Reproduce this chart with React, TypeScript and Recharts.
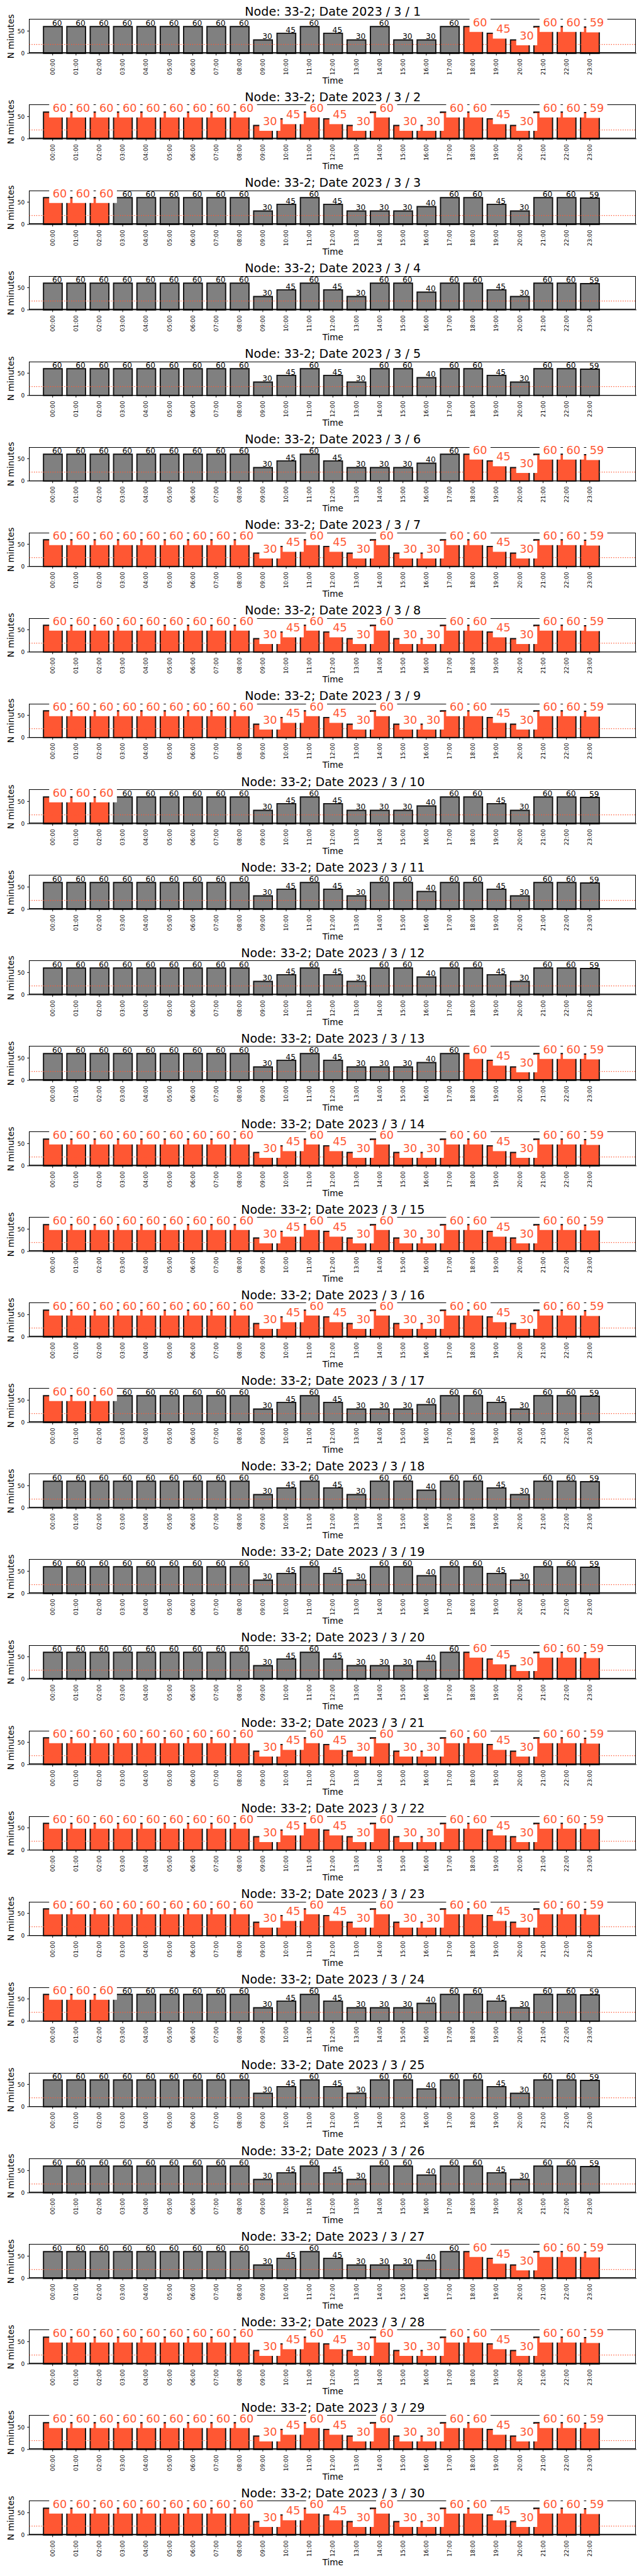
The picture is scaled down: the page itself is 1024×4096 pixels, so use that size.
import React from "react";
import { BarChart, Bar, XAxis, YAxis, Cell, ReferenceLine, LabelList } from "recharts";

// tick labels
const hours = [
  "00:00", "01:00", "02:00", "03:00", "04:00", "05:00", "06:00", "07:00",
  "08:00", "09:00", "10:00", "11:00", "12:00", "13:00", "14:00", "15:00",
  "16:00", "17:00", "18:00", "19:00", "20:00", "21:00", "22:00", "23:00",
];

// minutes per hour, three day types
const midweekMinutes = [60, 60, 60, 60, 60, 60, 60, 60, 60, 30, 45, 60, 45, 30, 60, 30, 30, 60, 60, 45, 30, 60, 60, 59];
const friMonMinutes = [60, 60, 60, 60, 60, 60, 60, 60, 60, 30, 45, 60, 45, 30, 30, 30, 40, 60, 60, 45, 30, 60, 60, 59];
const weekendMinutes = [60, 60, 60, 60, 60, 60, 60, 60, 60, 30, 45, 60, 45, 30, 60, 60, 40, 60, 60, 45, 30, 60, 60, 59];

// highlighted (orange) hours
const flagsAll = [1, 1, 1, 1, 1, 1, 1, 1, 1, 1, 1, 1, 1, 1, 1, 1, 1, 1, 1, 1, 1, 1, 1, 1];
const flagsEvening = [0, 0, 0, 0, 0, 0, 0, 0, 0, 0, 0, 0, 0, 0, 0, 0, 0, 0, 1, 1, 1, 1, 1, 1];
const flagsEarly = [1, 1, 1, 0, 0, 0, 0, 0, 0, 0, 0, 0, 0, 0, 0, 0, 0, 0, 0, 0, 0, 0, 0, 0];
const flagsNone = [0, 0, 0, 0, 0, 0, 0, 0, 0, 0, 0, 0, 0, 0, 0, 0, 0, 0, 0, 0, 0, 0, 0, 0];

const days = [1, 2, 3, 4, 5, 6, 7, 8, 9, 10, 11, 12, 13, 14, 15, 16, 17, 18, 19, 20, 21, 22, 23, 24, 25, 26, 27, 28, 29, 30];
const dayMinutes = [
  midweekMinutes, midweekMinutes, friMonMinutes, weekendMinutes, weekendMinutes, friMonMinutes,
  midweekMinutes, midweekMinutes, midweekMinutes, friMonMinutes, weekendMinutes, weekendMinutes, friMonMinutes,
  midweekMinutes, midweekMinutes, midweekMinutes, friMonMinutes, weekendMinutes, weekendMinutes, friMonMinutes,
  midweekMinutes, midweekMinutes, midweekMinutes, friMonMinutes, weekendMinutes, weekendMinutes, friMonMinutes,
  midweekMinutes, midweekMinutes, midweekMinutes,
];
const dayFlags = [
  flagsEvening, flagsAll, flagsEarly, flagsNone, flagsNone, flagsEvening,
  flagsAll, flagsAll, flagsAll, flagsEarly, flagsNone, flagsNone, flagsEvening,
  flagsAll, flagsAll, flagsAll, flagsEarly, flagsNone, flagsNone, flagsEvening,
  flagsAll, flagsAll, flagsAll, flagsEarly, flagsNone, flagsNone, flagsEvening,
  flagsAll, flagsAll, flagsAll,
];
const threshold = 20;

const FONT = "DejaVu Sans";
const ORANGE = "#FF5733";
const GRAY = "#808080";

const W = 1024;
const PH = 136.5;
const STEP = 136.06;
const TOP = 30.9;
const PLOT_H = 53.9;
const X_AXIS_H = PH - TOP - PLOT_H;
const Y_AXIS_W = 46.6;
const RIGHT = 12;
const PLOT_W = W - RIGHT - Y_AXIS_W;
const BAND = PLOT_W / 26;
const PAD = { left: BAND / 2, right: BAND * 1.5 };
const CX = Y_AXIS_W + PLOT_W / 2;

const HourTick = (props: any) => {
  const { x, y, payload } = props;
  return (
    <text
      x={0}
      y={0}
      transform={`translate(${x},${y}) rotate(-90)`}
      textAnchor="end"
      dy="0.35em"
      fontSize={9}
      fontFamily={FONT}
      fill="#000"
    >
      {payload.value}
    </text>
  );
};

function makeLabel(flags: number[]) {
  return (props: any) => {
    const { x, y, width, index, value } = props;
    const cx = Number(x) + Number(width) / 2;
    const top = Number(y);
    if (flags[index]) {
      return (
        <g>
          <rect x={cx - 5.8} y={top + 8.5 - 28} width={33.4} height={28} fill="#fff" />
          <text x={cx - 0.3} y={top - 0.7} fill={ORANGE} fontSize={17.7} fontFamily={FONT}>
            {value}
          </text>
        </g>
      );
    }
    return (
      <text x={cx - 1} y={top - 1.2} fill="#000" fontSize={12.3} fontFamily={FONT}>
        {value}
      </text>
    );
  };
}

function Panel({ idx }: { idx: number }) {
  const flags = dayFlags[idx];
  const rows = hours.map((h, i) => ({ h, v: dayMinutes[idx][i], on: flags[i] }));
  const margin = { top: TOP, right: RIGHT, bottom: 0, left: 0 };
  const barSize = BAND * 0.8;

  return (
    <div style={{ position: "absolute", top: idx * STEP, left: 0, width: W, height: PH }}>
      <div style={{ position: "absolute", top: 0, left: 0 }}>
        <BarChart width={W} height={PH} data={rows} margin={margin} barSize={barSize}>
          <XAxis
            dataKey="h"
            interval={0}
            height={X_AXIS_H}
            padding={PAD}
            tick={<HourTick />}
            tickSize={3.4}
            tickMargin={5}
            axisLine={{ stroke: "#000", strokeWidth: 1 }}
            tickLine={{ stroke: "#000" }}
          />
          <YAxis
            width={Y_AXIS_W}
            domain={[0, 76]}
            ticks={[0, 50]}
            tickSize={3.4}
            tickMargin={4}
            tick={{ fill: "#000", fontSize: 9, fontFamily: FONT }}
            axisLine={{ stroke: "#000", strokeWidth: 1 }}
            tickLine={{ stroke: "#000" }}
          />
          <Bar dataKey="v" isAnimationActive={false} stroke="#111" strokeWidth={1.9}>
            {rows.map((r, i) => (
              <Cell key={i} fill={r.on ? ORANGE : GRAY} />
            ))}
          </Bar>
        </BarChart>
      </div>
      {/* axes frame, under the label boxes */}
      <div
        style={{
          position: "absolute",
          left: Y_AXIS_W - 0.5,
          top: TOP - 0.5,
          width: PLOT_W,
          height: PLOT_H,
          border: "1px solid #000",
          boxSizing: "border-box",
        }}
      />
      <div style={{ position: "absolute", top: 0, left: 0 }}>
        <BarChart width={W} height={PH} data={rows} margin={margin} barSize={barSize}>
          <XAxis dataKey="h" height={X_AXIS_H} padding={PAD} tick={false} tickLine={false} axisLine={false} />
          <YAxis width={Y_AXIS_W} domain={[0, 76]} tick={false} tickLine={false} axisLine={false} />
          <ReferenceLine y={threshold} stroke={ORANGE} strokeWidth={1.4} strokeDasharray="1.4 2.3" />
          <Bar dataKey="v" isAnimationActive={false} fill="none" stroke="none">
            <LabelList dataKey="v" content={makeLabel(flags)} />
          </Bar>
        </BarChart>
      </div>
      <svg
        width={W}
        height={PH}
        style={{ position: "absolute", top: 0, left: 0, pointerEvents: "none" }}
      >
        <text x={CX} y={25.2} textAnchor="middle" fontSize={19.1} fontFamily={FONT} fill="#000">
          {`Node: 33-2; Date 2023 / 3 / ${days[idx]}`}
        </text>
        <text x={CX} y={132.8} textAnchor="middle" fontSize={13.6} fontFamily={FONT} fill="#000">
          Time
        </text>
        <text
          x={0}
          y={0}
          transform={`translate(21.5,${TOP + PLOT_H / 2}) rotate(-90)`}
          textAnchor="middle"
          fontSize={13.8}
          fontFamily={FONT}
          fill="#000"
        >
          N minutes
        </text>
      </svg>
    </div>
  );
}

export default function App() {
  return (
    <div style={{ position: "absolute", top: 0, left: 0, width: W, height: 4096, background: "#fff" }}>
      {days.map((d, i) => (
        <Panel key={d} idx={i} />
      ))}
    </div>
  );
}
